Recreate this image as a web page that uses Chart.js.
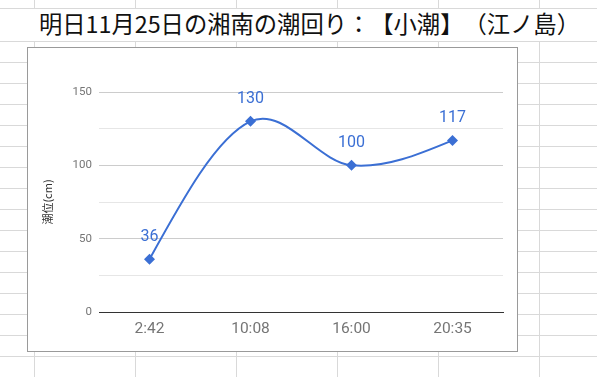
<!DOCTYPE html>
<html>
<head>
<meta charset="utf-8">
<script src="https://cdn.jsdelivr.net/npm/chart.js@4"></script>
<style>
  html, body { margin: 0; padding: 0; }
  body {
    width: 597px; height: 377px; position: relative; overflow: hidden;
    background: #fff;
  }
  /* spreadsheet grid behind the chart */
  .sheet-top {
    position: absolute; left: 0; top: 0; width: 597px; height: 8px;
    background-image: linear-gradient(to right, #d9d9d9 1px, transparent 1px);
    background-size: 101px 100%; background-position: 34px 0;
    border-bottom: 1px solid #d9d9d9;
  }
  .sheet-title-row {
    position: absolute; left: 0; top: 41px; width: 597px; height: 1px; background: #d9d9d9;
  }
  .sheet-body {
    position: absolute; left: 0; top: 41px; width: 597px; height: 336px;
    background-image:
      linear-gradient(to right, #d9d9d9 1px, transparent 1px),
      linear-gradient(to bottom, #d9d9d9 1px, transparent 1px);
    background-size: 101px 100%, 100% 21px;
    background-position: 34px 0, 0 0;
  }
  .title {
    position: absolute; left: 39px; top: 12px;
    font-family: "Noto Sans CJK JP", sans-serif; font-size: 23.3px; line-height: 23px;
    color: #111; white-space: nowrap;
    text-spacing-trim: space-all;
  }
  .chart-box {
    position: absolute; left: 27px; top: 47px; width: 489px; height: 303px;
    border: 1px solid #9a9a9a; background: #fff;
  }
</style>
</head>
<body>
<div class="sheet-top"></div>
<div class="sheet-body"></div>
<div class="sheet-title-row"></div>
<div class="title">明日11月25日の湘南の潮回り：【小潮】（江ノ島）</div>
<div class="chart-box"><canvas id="tideChart" width="489" height="303"></canvas></div>
<script>
// tide times and heights (cm)
const tideTimes = ['2:42', '10:08', '16:00', '20:35'];
const tideLevels = [36, 130, 100, 117];
const yTicks = [0, 50, 100, 150];

const blue = '#3b6fd4';

// value labels above each point
const pointLabels = {
  id: 'pointLabels',
  afterDatasetsDraw(chart) {
    const ctx = chart.ctx;
    const meta = chart.getDatasetMeta(0);
    ctx.save();
    ctx.font = '16px Roboto';
    ctx.fillStyle = blue;
    ctx.textAlign = 'center';
    ctx.textBaseline = 'middle';
    meta.data.forEach((pt, i) => {
      ctx.fillText(String(tideLevels[i]), pt.x, pt.y - 22.5);
    });
    ctx.restore();
  }
};

// smoother curve like the sheets one: centred slopes inside, natural ends
const sheetCurve = {
  id: 'sheetCurve',
  beforeDatasetDraw(chart, args) {
    const meta = args.meta;
    const pts = meta.data;
    if (pts.length < 3) return;
    meta.dataset.updateControlPoints(chart.chartArea, 'x');
    const n = pts.length;
    const m = new Array(n);
    for (let i = 1; i < n - 1; i++) {
      m[i] = (pts[i + 1].y - pts[i - 1].y) / (pts[i + 1].x - pts[i - 1].x);
    }
    const d0 = (pts[1].y - pts[0].y) / (pts[1].x - pts[0].x);
    const dn = (pts[n - 1].y - pts[n - 2].y) / (pts[n - 1].x - pts[n - 2].x);
    m[0] = (3 * d0 - m[1]) / 2;
    m[n - 1] = (3 * dn - m[n - 2]) / 2;
    for (let i = 0; i < n; i++) {
      const p = pts[i];
      if (i > 0) {
        const h = (p.x - pts[i - 1].x) / 3;
        p.cp1x = p.x - h;
        p.cp1y = p.y - m[i] * h;
      }
      if (i < n - 1) {
        const h = (pts[i + 1].x - p.x) / 3;
        p.cp2x = p.x + h;
        p.cp2y = p.y + m[i] * h;
      }
    }
  }
};

const ctx = document.getElementById('tideChart').getContext('2d');
new Chart(ctx, {
  type: 'line',
  data: {
    labels: tideTimes,
    datasets: [{
      label: '潮位(cm)',
      data: tideLevels,
      borderColor: blue,
      backgroundColor: blue,
      borderWidth: 2,
      tension: 0.4,
      pointStyle: 'rectRot',
      pointRadius: 5.5,
      pointBorderWidth: 0,
      fill: false
    }]
  },
  options: {
    responsive: false,
    animation: false,
    layout: { padding: { top: 44, right: 14, left: 0, bottom: 0 } },
    plugins: {
      legend: { display: false },
      tooltip: { enabled: false }
    },
    scales: {
      x: {
        offset: true,
        grid: { display: false, drawTicks: false },
        border: { display: true, color: '#333', width: 1 },
        ticks: {
          padding: 8,
          color: '#757575',
          font: { family: 'Roboto', size: 15.5 }
        },
        afterFit(scale) { scale.height = 39; }
      },
      y: {
        min: 0,
        max: 150,
        border: { display: false },
        grid: {
          drawTicks: false,
          color: c => (c.tick.value % 50 === 0 ? '#cccccc' : '#e6e6e6')
        },
        ticks: {
          stepSize: 25,
          padding: 7,
          color: '#757575',
          font: { family: 'Roboto', size: 11.5 },
          callback: v => (yTicks.includes(v) ? v : '')
        },
        title: {
          display: true,
          text: '潮位(cm)',
          color: '#333',
          padding: { top: 13, bottom: 0 },
          font: { family: 'Noto Sans CJK JP', size: 11 }
        },
        afterFit(scale) { scale.width = 71; }
      }
    }
  },
  plugins: [sheetCurve, pointLabels]
});
</script>
</body>
</html>
